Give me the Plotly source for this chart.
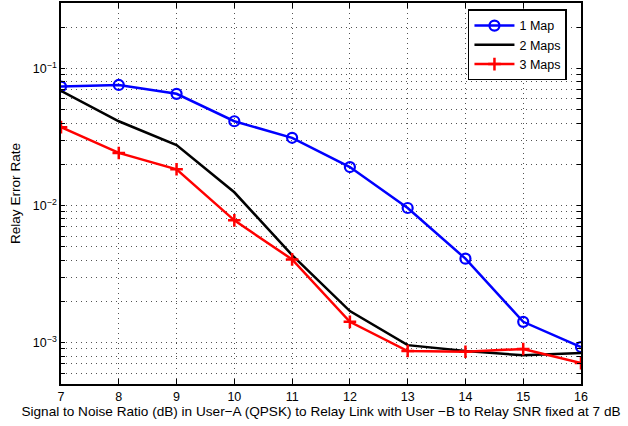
import numpy as np
import plotly.graph_objects as go

# SNR (dB) on User-A link
snr = [7, 8, 9, 10, 11, 12, 13, 14, 15, 16]

# relay error rate per mapping count
one_map = [0.0738, 0.0758, 0.0653, 0.0412, 0.0312, 0.0191, 0.0096, 0.0041, 0.00142, 0.00093]
two_maps = [0.0687, 0.0412, 0.0276, 0.0125, 0.00435, 0.0017, 0.00096, 0.00087, 0.00081, 0.00084]
three_maps = [0.0373, 0.0242, 0.0184, 0.0078, 0.00405, 0.00142, 0.00087, 0.00086, 0.00090, 0.00071]

x_ticks = list(range(7, 17))
decades = [-3, -2, -1]

# log axis ticks: label only the decades, other multiples just carry the grid
y_vals, y_text = [], []
for d in [-4, -3, -2, -1]:
    for m in range(1, 10):
        v = m * 10.0 ** d
        if 5e-4 <= v <= 0.3:
            y_vals.append(v)
            y_text.append("10<sup>\u2212%d</sup>" % -d if (m == 1 and d in decades) else "")

FONT = "Liberation Sans, Arial, Helvetica, sans-serif"
GRID = "rgba(40,40,40,0.8)"

fig = go.Figure()
fig.add_trace(go.Scatter(
    x=snr, y=one_map, name="1 Map", mode="lines+markers",
    line=dict(color="#0000ff", width=2.5),
    marker=dict(symbol="circle-open", size=10, color="#0000ff", line=dict(width=2.2)),
))
fig.add_trace(go.Scatter(
    x=snr, y=two_maps, name="2 Maps", mode="lines",
    line=dict(color="#000000", width=2.5),
))
fig.add_trace(go.Scatter(
    x=snr, y=three_maps, name="3 Maps", mode="lines+markers",
    line=dict(color="#ff0000", width=2.5),
    marker=dict(symbol="cross-thin-open", size=9, color="#ff0000", line=dict(width=2.5, color="#ff0000")),
))

fig.update_xaxes(
    range=[7, 16], tickvals=x_ticks, ticks="inside", ticklen=5, tickcolor="black",
    showline=True, linecolor="black", linewidth=1.5, mirror="ticks",
    showgrid=True, gridcolor=GRID, griddash="1px,4px", gridwidth=1,
    zeroline=False,
    title=dict(text="Signal to Noise Ratio (dB) in User\u2212A (QPSK) to Relay Link with User \u2212B to Relay SNR fixed at 7 dB",
               font=dict(size=13.6, color="black"), standoff=3),
    tickfont=dict(size=12.5, color="black"),
)
fig.update_yaxes(
    type="log", range=[np.log10(5e-4), np.log10(0.3)],
    tickvals=y_vals, ticktext=y_text, ticks="inside", ticklen=4, tickcolor="black",
    showline=True, linecolor="black", linewidth=1.5, mirror="ticks",
    showgrid=True, gridcolor=GRID, griddash="1px,4px", gridwidth=1,
    zeroline=False,
    title=dict(text="Relay Error Rate", font=dict(size=13.6, color="black"), standoff=9),
    tickfont=dict(size=12.5, color="black"),
)

fig.update_layout(
    width=628, height=426,
    margin=dict(l=61, r=47, t=1, b=42),
    paper_bgcolor="white", plot_bgcolor="white",
    font=dict(family=FONT, size=12, color="black"),
    showlegend=True,
    legend=dict(
        x=0.973, y=0.983, xanchor="right", yanchor="top",
        bgcolor="white", bordercolor="black", borderwidth=1.5,
        font=dict(size=12.5, color="black"),
        tracegroupgap=0, itemwidth=40,
    ),
)

# page body has a default 8px margin; drop it so the figure fills the window
fig.write_html("out.html", config={"displayModeBar": False},
               post_script="document.body.style.margin='0';")
